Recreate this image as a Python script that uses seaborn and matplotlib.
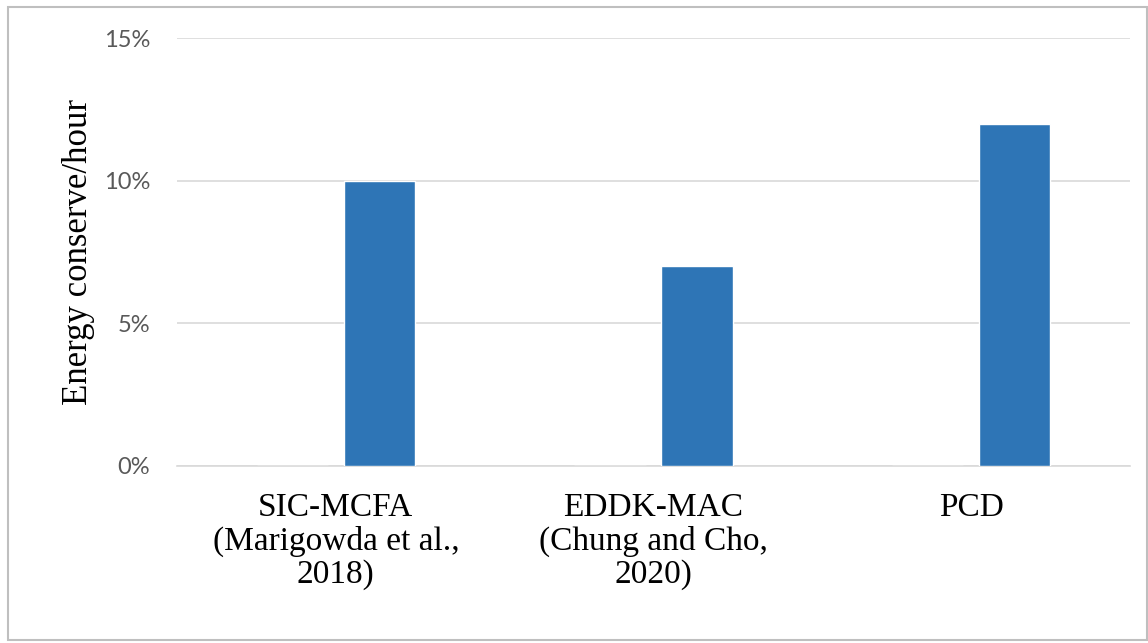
import matplotlib
matplotlib.use("Agg")
import matplotlib.pyplot as plt
import seaborn as sns
import pandas as pd
from matplotlib.patches import Rectangle

categories = ["SIC-MCFA\n(Marigowda et al.,\n2018)", "EDDK-MAC\n(Chung and Cho,\n2020)", "PCD"]
hidden_series = [0.0, 0.0, 0.0]
energy_values = [0.10, 0.07, 0.12]
y_ticks = [0.0, 0.05, 0.10, 0.15]
y_tick_labels = ["0%", "5%", "10%", "15%"]

df = pd.DataFrame({
    "method": categories * 2,
    "series": ["hidden"] * 3 + ["energy"] * 3,
    "value": hidden_series + energy_values,
})

sns.set_theme(style="white")
plt.rcParams["font.family"] = ["Liberation Sans", "DejaVu Sans"]

fig = plt.figure(figsize=(11.48, 6.43), dpi=100)
ax = fig.add_axes([0.1542, 0.2753, 0.8301, 0.6656])

sns.barplot(data=df, x="method", y="value", hue="series",
            hue_order=["hidden", "energy"],
            palette={"hidden": "#2E75B6", "energy": "#2E75B6"},
            width=0.548, gap=0.182, errorbar=None, legend=False,
            saturation=1, ax=ax, zorder=3)

ax.set_ylim(0, 0.15)
ax.set_xlim(-0.5, 2.5)
ax.set_yticks(y_ticks)
ax.set_yticklabels(y_tick_labels, color="#595959", fontsize=17, family="Lato")
ax.yaxis.grid(True, color="#D9D9D9", linewidth=1.2, zorder=0)
ax.set_axisbelow(True)
for s in ["top", "right", "left"]:
    ax.spines[s].set_visible(False)
ax.spines["bottom"].set_color("#D9D9D9")
ax.spines["bottom"].set_linewidth(1.2)
ax.tick_params(axis="y", length=0, pad=19.5)
ax.tick_params(axis="x", length=0, pad=19)
for lbl in ax.get_xticklabels():
    lbl.set_fontfamily("Liberation Serif")
    lbl.set_fontsize(24)
    lbl.set_linespacing(1.1)
    lbl.set_color("#000000")
ax.set_xlabel("")
ax.set_ylabel("Energy conserve/hour", fontsize=25, family="Liberation Serif",
              color="#000000", labelpad=6)

fig.patches.append(Rectangle((8 / 1148, 3 / 643), 1139 / 1148, 633 / 643,
                             transform=fig.transFigure, fill=False,
                             edgecolor="#BFBFBF", linewidth=1.5))

fig.savefig("out.png", dpi=100, facecolor="white")
